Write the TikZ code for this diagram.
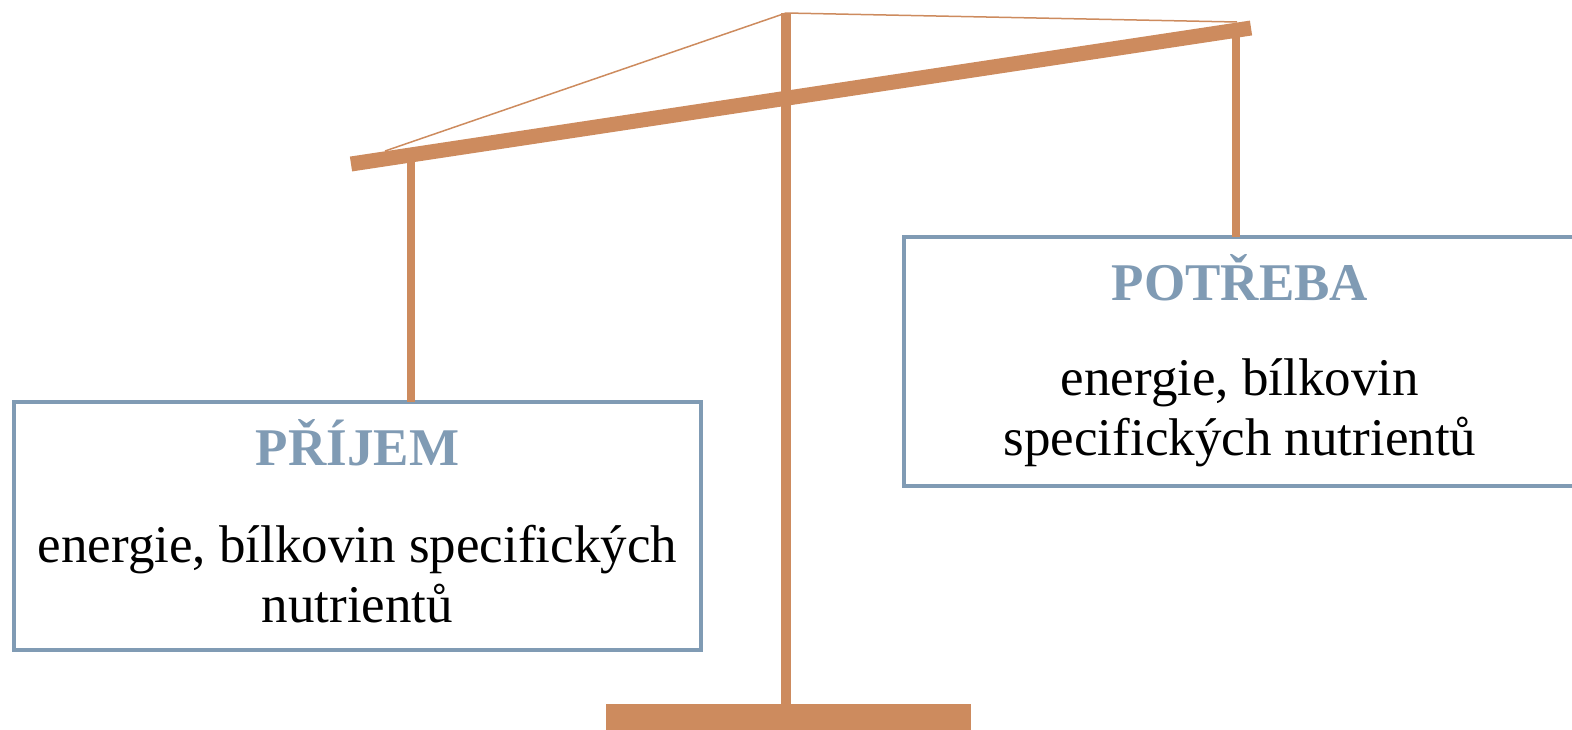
\documentclass[tikz,border=0pt]{standalone}
\usepackage{fontspec}
\setmainfont{Liberation Serif}
\definecolor{woodc}{RGB}{205,139,94}
\definecolor{framec}{RGB}{128,155,180}
\begin{document}
\begin{tikzpicture}[x=0.5pt,y=-0.5pt,
  wood/.style={draw=woodc,line cap=butt},
  panbox/.style={draw=framec,line width=2pt,fill=white},
  title/.style={anchor=base,text=framec,font=\fontsize{26.5}{30}\selectfont\bfseries,inner sep=0pt},
  body/.style={anchor=base,text=black,font=\fontsize{26.5}{30}\selectfont,inner sep=0pt}]
\useasboundingbox (0,0) rectangle (1572,729);
% key points
\coordinate (beamL) at (351,164);
\coordinate (beamR) at (1251,28);
\coordinate (postTop) at (786,13);
\coordinate (postBot) at (786,704);
\coordinate (ropeL) at (385,151);
\coordinate (ropeR) at (1237,22);
\coordinate (hangL) at (411,157);
\coordinate (hangR) at (1236,30);
% boxes
\draw[panbox] (14,402) rectangle (701,650);
\node (boxL) at (357.5,526) [minimum width=343.5pt,minimum height=124pt,inner sep=0pt] {};
\draw[panbox] (904,237) rectangle (1578,486);
\node (boxR) at (1241,361.5) [minimum width=337pt,minimum height=124.5pt,inner sep=0pt] {};
% hangers
\draw[wood,line width=4pt] (hangL) -- (hangL |- boxL.north);
\draw[wood,line width=3.8pt] (hangR) -- (hangR |- boxR.north);
% post and base
\draw[wood,line width=5pt] (postTop) -- (postBot);
\node (base) [fill=woodc,inner sep=0pt,minimum width=182.5pt,minimum height=14pt,anchor=north] at (788.5,704) {};
% beam
\draw[wood,line width=7.5pt] (beamL) -- (beamR);
% ropes
\draw[woodc,line width=0.75pt] (ropeL) -- (postTop) -- (ropeR);
% texts
\node[title] (tL) at (357.5,465) {PŘÍJEM};
\node[body] (bL1) at (357.5,562) {energie, bílkovin specifických};
\node[body] (bL2) at (357.5,622) {nutrientů};
\node[title] (tR) at (1240,300) {POTŘEBA};
\node[body] (bR1) at (1240,395) {energie, bílkovin};
\node[body] (bR2) at (1240,455) {specifických nutrientů};
\end{tikzpicture}
\end{document}
